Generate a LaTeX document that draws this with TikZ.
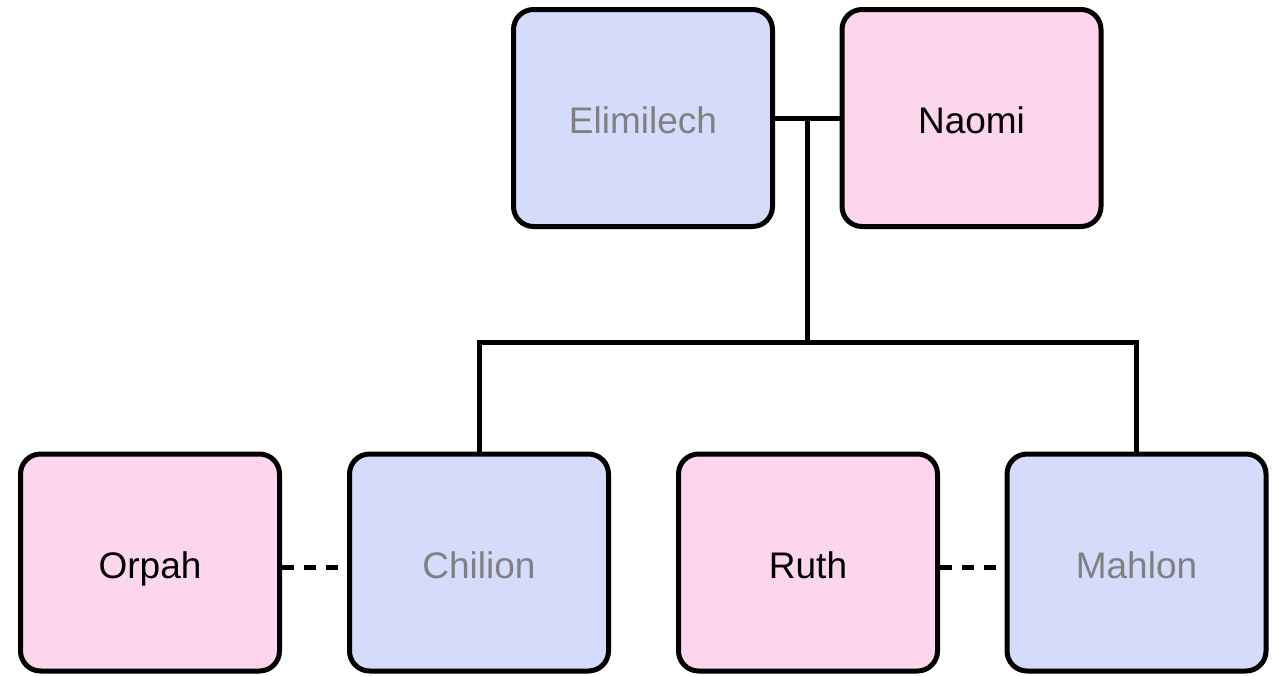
\documentclass[tikz,border=0pt]{standalone}
\usepackage{fontspec}
\setmainfont{Liberation Sans}
\begin{document}
\begin{tikzpicture}[x=1pt,y=-1pt,
  person/.style={draw=black, line width=5pt, rounded corners=20pt, minimum width=259pt, minimum height=217pt, inner sep=0pt, text height=31pt, text depth=0pt, font=\fontsize{37}{40}\selectfont},
  male/.style={person, fill=maleblue, text=deadgray},
  female/.style={person, fill=femalepink, text=black},
  link/.style={line width=5pt},
  spouse/.style={line width=5pt, dash pattern=on 12pt off 10pt}]
\definecolor{maleblue}{HTML}{D5DCFB}
\definecolor{femalepink}{HTML}{FDD5EC}
\definecolor{deadgray}{HTML}{808080}
\useasboundingbox (0,0) rectangle (1284,675);
\node[male] (eli) at (643,118) {Elimilech};
\node[female] (nao) at (971.5,118) {Naomi};
\node[female] (orp) at (150,562.5) {Orpah};
\node[male] (chi) at (479,562.5) {Chilion};
\node[female] (rut) at (808,562.5) {Ruth};
\node[male] (mah) at (1136.5,562.5) {Mahlon};
\coordinate (m) at (807,118);
\coordinate (j) at (807,342);
\draw[link] (eli.east) -- (nao.west);
\draw[link] (m) -- (j);
\draw[link] (chi.north) |- (j) -| (mah.north);
\draw[spouse] (orp.east |- 0,567) -- (chi.west |- 0,567);
\draw[spouse] (rut.east |- 0,567) -- (mah.west |- 0,567);
\end{tikzpicture}
\end{document}
